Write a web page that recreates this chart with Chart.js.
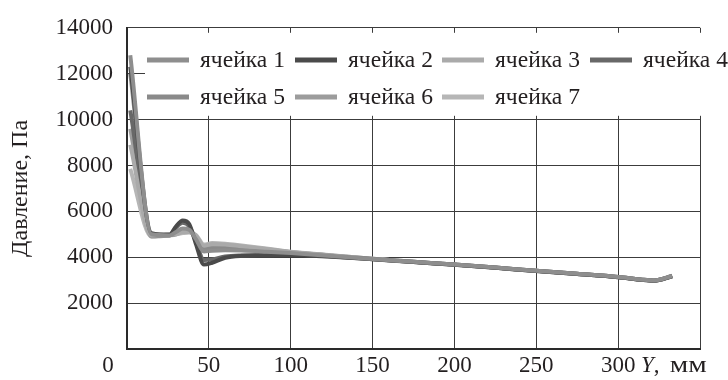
<!DOCTYPE html>
<html>
<head>
<meta charset="utf-8">
<script src="https://cdn.jsdelivr.net/npm/chart.js@4.4.1/dist/chart.umd.min.js"></script>
<style>
  html, body { margin: 0; padding: 0; background: #fff; }
</style>
</head>
<body>
<canvas id="pressureChart" width="728" height="380"></canvas>
<script>
const positions = [2, 15, 26, 30, 34, 38, 42, 47, 52, 60, 70, 85, 100, 125, 150, 175, 200, 225, 250, 275, 300, 315, 322, 333];

const cellNames = ['ячейка 1', 'ячейка 2', 'ячейка 3', 'ячейка 4', 'ячейка 5', 'ячейка 6', 'ячейка 7'];
const cellColors = ['#8e8e8e', '#4a4a4a', '#aaaaaa', '#686868', '#8a8a8a', '#9c9c9c', '#b6b6b6'];

const cell1 = [12800, 5000, 4950, 5100, 5250, 5200, 4800, 4250, 4280, 4300, 4290, 4240, 4180, 4050, 3920, 3800, 3680, 3550, 3410, 3280, 3140, 3020, 2990, 3180];
const cell2 = [12300, 5050, 4980, 5350, 5600, 5450, 4600, 3680, 3760, 3980, 4060, 4080, 4100, 4020, 3910, 3790, 3670, 3540, 3400, 3270, 3130, 3010, 2980, 3170];
const cell3 = [8900, 4950, 5000, 5000, 5100, 5100, 4950, 4500, 4580, 4560, 4480, 4360, 4230, 4080, 3930, 3800, 3680, 3550, 3410, 3280, 3140, 3020, 2990, 3180];
const cell4 = [10400, 5000, 4980, 5300, 5500, 5350, 4700, 3880, 3900, 4030, 4080, 4100, 4110, 4030, 3910, 3790, 3670, 3540, 3400, 3270, 3130, 3010, 2980, 3170];
const cell5 = [12000, 4950, 4950, 5050, 5200, 5200, 4850, 4350, 4380, 4400, 4380, 4300, 4200, 4060, 3920, 3800, 3680, 3550, 3410, 3280, 3140, 3020, 2990, 3180];
const cell6 = [9600, 4900, 4950, 5000, 5150, 5150, 4900, 4450, 4500, 4480, 4430, 4330, 4220, 4070, 3930, 3800, 3680, 3550, 3410, 3280, 3140, 3020, 2990, 3180];
const cell7 = [7850, 4900, 5000, 5000, 5050, 5080, 4980, 4550, 4620, 4590, 4510, 4380, 4240, 4090, 3930, 3800, 3680, 3550, 3410, 3280, 3140, 3020, 2990, 3190];

const cellValues = [cell1, cell2, cell3, cell4, cell5, cell6, cell7];

const xTicks = [0, 50, 100, 150, 200, 250, 300, 350];
const yTicks = [0, 2000, 4000, 6000, 8000, 10000, 12000, 14000];

const FONT = 'Liberation Serif';
const FONT_SIZE = 23;
const TEXT = '#231f20';
const GRID = '#3c3c3c';

// Legend inside the plot on a white box, plus the "0" and "Y, мм" axis captions
const extrasPlugin = {
    id: 'extras',
    afterDraw(chart) {
        const ctx = chart.ctx;
        const area = chart.chartArea;
        const xs = chart.scales.x;
        ctx.save();

        // white box behind the legend
        ctx.fillStyle = '#fff';
        ctx.fillRect(area.left + 18, area.top + 5, chart.width - area.left - 18, 83);

        ctx.font = FONT_SIZE + 'px "' + FONT + '"';
        ctx.textBaseline = 'middle';
        ctx.fillStyle = TEXT;
        const colX = [147, 295, 442, 590];
        const rowY = [60, 97];
        chart.data.datasets.forEach((ds, i) => {
            const x = colX[i % 4];
            const y = rowY[Math.floor(i / 4)];
            ctx.strokeStyle = ds.borderColor;
            ctx.lineWidth = 5;
            ctx.beginPath();
            ctx.moveTo(x, y);
            ctx.lineTo(x + 42, y);
            ctx.stroke();
            // the source font runs a touch wider than Liberation Serif
            const w = ctx.measureText(ds.label).width;
            const sx = Math.min(1.08, 85 / w);
            ctx.save();
            ctx.translate(x + 53, y + 1);
            ctx.scale(sx, 1);
            ctx.fillText(ds.label, 0, 0);
            ctx.restore();
        });

        // axis captions on the tick row
        const ly = area.bottom + 17;
        ctx.textAlign = 'center';
        ctx.fillText('0', area.left - 19, ly);
        ctx.textAlign = 'left';
        let cx = xs.getPixelForValue(350) - 59;
        ctx.font = 'italic ' + FONT_SIZE + 'px "' + FONT + '"';
        ctx.fillText('Y', cx, ly);
        cx += ctx.measureText('Y').width;
        ctx.font = FONT_SIZE + 'px "' + FONT + '"';
        ctx.fillText(',', cx, ly);
        // unit letters are set wide in the source
        const mw = ctx.measureText('мм').width;
        ctx.save();
        ctx.translate(cx + 16, ly);
        ctx.scale(Math.min(1.4, 37 / mw), 1);
        ctx.fillText('мм', 0, 0);
        ctx.restore();
        ctx.restore();
    }
};

new Chart(document.getElementById('pressureChart'), {
    type: 'line',
    data: {
        datasets: cellNames.map((name, i) => ({
            label: name,
            data: positions.map((x, j) => ({ x: x, y: cellValues[i][j] })),
            borderColor: cellColors[i],
            backgroundColor: cellColors[i],
            borderWidth: 4,
            pointRadius: 0,
            fill: false,
            cubicInterpolationMode: 'monotone'
        }))
    },
    options: {
        responsive: false,
        animation: false,
        events: [],
        layout: {
            padding: { top: 20, right: 28, left: 0, bottom: 0 }
        },
        plugins: {
            legend: { display: false },
            tooltip: { enabled: false },
            title: { display: false }
        },
        scales: {
            x: {
                type: 'linear',
                min: 0,
                max: 350,
                afterBuildTicks: scale => { scale.ticks = xTicks.map(v => ({ value: v })); },
                afterFit: scale => { scale.height = 31; },
                ticks: {
                    color: TEXT,
                    padding: 3,
                    maxRotation: 0,
                    font: { family: FONT, size: FONT_SIZE },
                    callback: v => (v === 0 || v === 350) ? '' : String(v)
                },
                grid: { color: GRID, lineWidth: 1, drawTicks: false },
                border: { color: '#2a2a2a', width: 2 }
            },
            y: {
                min: 0,
                max: 14000,
                afterBuildTicks: scale => { scale.ticks = yTicks.map(v => ({ value: v })); },
                afterFit: scale => { scale.width = 127; },
                ticks: {
                    color: TEXT,
                    padding: 14,
                    font: { family: FONT, size: FONT_SIZE },
                    callback: v => v === 0 ? '' : String(v)
                },
                grid: { color: GRID, lineWidth: 1, drawTicks: false },
                border: { color: '#2a2a2a', width: 2 },
                title: {
                    display: true,
                    text: 'Давление, Па',
                    color: TEXT,
                    font: { family: FONT, size: 24 },
                    padding: { top: 6, bottom: 0 }
                }
            }
        }
    },
    plugins: [extrasPlugin]
});
</script>
</body>
</html>
